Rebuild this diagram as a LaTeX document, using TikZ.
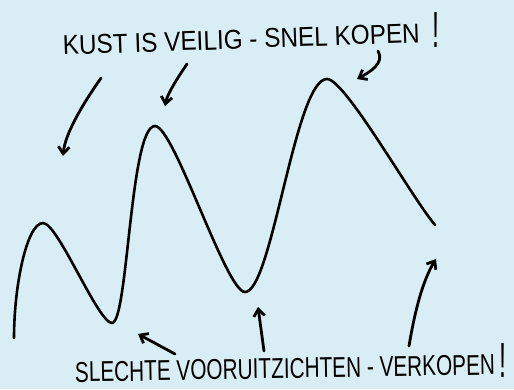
\documentclass[tikz,border=0pt]{standalone}
\usepackage{fontspec}
\setmainfont{Liberation Sans}
\usetikzlibrary{arrows.meta}
\definecolor{bg}{RGB}{217,238,244}
\tikzset{
  wave/.style={line width=2.6pt, line cap=round, line join=round},
  pointer/.style={line width=2.8pt, line cap=round, -{Straight Barb[length=7pt,width=11pt,line width=2.8pt]}},
  label/.style={inner sep=0pt, anchor=base west}
}
\begin{document}
\begin{tikzpicture}[x=1pt,y=-1pt]
\fill[bg] (0,0) rectangle (514,389);
\useasboundingbox (0,0) rectangle (514,389);
% the wave
\coordinate (w0) at (14,338);
\coordinate (p1) at (43,223);
\coordinate (t1) at (112,323);
\coordinate (p2) at (155,126);
\coordinate (t2) at (245,292);
\coordinate (p3) at (327,79);
\coordinate (w1) at (435,225);
\draw[wave] (w0) .. controls (14,285) and (27,223) .. (p1)
  .. controls (58,223) and (98,323) .. (t1)
  .. controls (128,323) and (130,126) .. (p2)
  .. controls (174,126) and (226,292) .. (t2)
  .. controls (272,292) and (295,79) .. (p3)
  .. controls (345,79) and (410,195) .. (w1);
% text
\node[label, rotate=2] (top) at (63,55) {\resizebox{357pt}{19pt}{KUST IS VEILIG - SNEL KOPEN}};
\node[label] (topx) at (432,47) {\resizebox{7pt}{35pt}{!}};
\node[label, rotate=1] (bot) at (75,382) {\resizebox{420pt}{20pt}{SLECHTE VOORUITZICHTEN - VERKOPEN}};
\node[label] (botx) at (499,377) {\resizebox{7pt}{34pt}{!}};
% pointers
\coordinate (a1s) at (101,78);  \coordinate (a1e) at (63,156);
\coordinate (a2s) at (187,64);  \coordinate (a2e) at (165,106);
\coordinate (a3s) at (378,51);  \coordinate (a3e) at (357,79);
\coordinate (b1s) at (175,354); \coordinate (b1e) at (138,334);
\coordinate (b2s) at (264,351); \coordinate (b2e) at (258,307);
\coordinate (b3s) at (409,346); \coordinate (b3e) at (436,259);
\draw[pointer] (a1s) .. controls (80,108) and (65,135) .. (a1e);
\draw[pointer] (a2s) .. controls (176,80) and (167,95) .. (a2e);
\draw[pointer] (a3s) .. controls (385,63) and (370,72) .. (a3e);
\draw[pointer] (b1s) -- (b1e);
\draw[pointer] (b2s) -- (b2e);
\draw[pointer] (b3s) .. controls (415,310) and (423,280) .. (b3e);
\end{tikzpicture}
\end{document}
